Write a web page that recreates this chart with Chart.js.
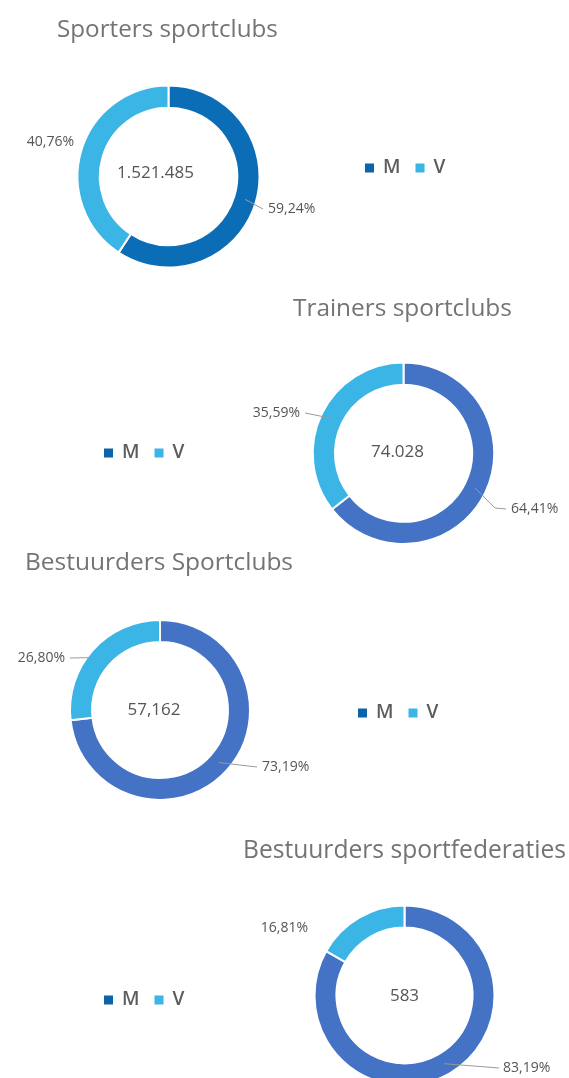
<!DOCTYPE html>
<html>
<head>
<meta charset="utf-8">
<script src="https://cdn.jsdelivr.net/npm/chart.js@4.4.0/dist/chart.umd.min.js"></script>
<style>
html,body{margin:0;padding:0;background:#fff;overflow:hidden;width:569px;height:1078px;}
.box{position:absolute;left:0;width:569px;}
canvas{display:block;}
</style>
</head>
<body>
<div class="box" style="top:0px"><canvas id="c1" width="569" height="280"></canvas></div>
<div class="box" style="top:280px"><canvas id="c2" width="569" height="265"></canvas></div>
<div class="box" style="top:545px"><canvas id="c3" width="569" height="285"></canvas></div>
<div class="box" style="top:830px"><canvas id="c4" width="569" height="300"></canvas></div>
<script>
// ---- DATA ----
const categories = ['M', 'V'];
const titles = ['Sporters sportclubs', 'Trainers sportclubs', 'Bestuurders Sportclubs', 'Bestuurders sportfederaties'];
const totals = ['1.521.485', '74.028', '57,162', '583'];
const sportersPct = [59.24, 40.76];
const trainersPct = [64.41, 35.59];
const bestuurdersClubsPct = [73.19, 26.80];
const bestuurdersFedPct = [83.19, 16.81];

// ---- STYLE ----
const legendColors = ['#0b63aa', '#3bb4e6'];
const fmtPct = v => v.toFixed(2).replace('.', ',') + '%';
const FONT = '"Open Sans", "Noto Sans", sans-serif';

const decoPlugin = {
  id: 'deco',
  afterDraw(chart, args, o) {
    const ctx = chart.ctx;
    const meta = chart.getDatasetMeta(0);
    const cx = meta.data[0].x, cy = meta.data[0].y;
    const values = chart.data.datasets[0].data;
    ctx.save();
    // title
    ctx.textBaseline = 'middle';
    ctx.textAlign = 'left';
    ctx.fillStyle = '#747474';
    ctx.font = '20px ' + FONT;
    const w20 = ctx.measureText(o.title).width;
    const fs = 20 * o.titleW / w20;
    ctx.font = fs.toFixed(2) + 'px ' + FONT;
    ctx.fillText(o.title, o.titleX, o.titleY);
    // center total
    ctx.textAlign = 'center';
    ctx.fillStyle = '#555555';
    ctx.font = '17px ' + FONT;
    ctx.fillText(o.total, cx + o.totalDx, cy + o.totalDy);
    // legend
    let x = o.legendX;
    chart.data.labels.forEach((lab, i) => {
      ctx.fillStyle = legendColors[i];
      ctx.fillRect(x, o.legendY - 4.5, 9, 9);
      ctx.font = '600 19px ' + FONT;
      ctx.fillStyle = '#5c5c5c';
      ctx.textAlign = 'left';
      ctx.fillText(lab, x + 18, o.legendY);
      x += 18 + ctx.measureText(lab).width + 15;
    });
    // percentage labels with leader lines
    ctx.font = '14px ' + FONT;
    o.labels.forEach((L, i) => {
      const p = meta.data[i].getCenterPoint();
      if (L.line) {
        ctx.strokeStyle = '#9a9a9a';
        ctx.lineWidth = 1;
        ctx.beginPath();
        ctx.moveTo(p.x, p.y);
        if (L.elbow) ctx.lineTo(L.elbow[0], L.elbow[1]);
        ctx.lineTo(L.lx, L.y);
        ctx.stroke();
      }
      ctx.fillStyle = '#555555';
      ctx.textAlign = L.align;
      ctx.fillText(fmtPct(values[i]), L.x, L.y);
    });
    ctx.restore();
  }
};

function makeChart(id, values, mColor, H, cx, cy, R, deco) {
  const half = R + 1;
  return new Chart(document.getElementById(id), {
    type: 'doughnut',
    data: {
      labels: categories,
      datasets: [{
        data: values,
        backgroundColor: [mColor, '#3bb4e6'],
        borderColor: '#ffffff',
        borderWidth: 2,
        hoverOffset: 0
      }]
    },
    options: {
      responsive: false,
      animation: false,
      events: [],
      cutout: '75.5%',
      layout: { padding: { left: cx - half, right: 569 - cx - half, top: cy - half, bottom: H - cy - half } },
      plugins: { legend: { display: false }, tooltip: { enabled: false }, deco: deco }
    },
    plugins: [decoPlugin]
  });
}

makeChart('c1', sportersPct, '#0b6db5', 280, 168.5, 176.5, 91, {
  title: titles[0], titleX: 57, titleY: 30, titleW: 221, total: totals[0], totalDx: -13, totalDy: -3,
  legendX: 365, legendY: 168,
  labels: [
    { line: true, lx: 263, y: 209, x: 268, align: 'left' },
    { line: false, x: 74, y: 142, align: 'right' }
  ]
});
makeChart('c2', trainersPct, '#4472c4', 265, 403.5, 173.5, 91, {
  title: titles[1], titleX: 293, titleY: 29, titleW: 219, total: totals[1], totalDx: -6, totalDy: -1,
  legendX: 104, legendY: 173,
  labels: [
    { line: true, elbow: [495, 228], lx: 506, y: 229, x: 511, align: 'left' },
    { line: true, lx: 305, y: 133, x: 300, align: 'right' }
  ]
});
makeChart('c3', bestuurdersClubsPct, '#4472c4', 285, 160, 165, 90, {
  title: titles[2], titleX: 25, titleY: 18, titleW: 268, total: totals[2], totalDx: -6, totalDy: 0,
  legendX: 358, legendY: 168,
  labels: [
    { line: true, lx: 257, y: 222, x: 262, align: 'left' },
    { line: true, lx: 70, y: 113, x: 65, align: 'right' }
  ]
});
makeChart('c4', bestuurdersFedPct, '#4472c4', 300, 404.5, 165.5, 90, {
  title: titles[3], titleX: 243, titleY: 21, titleW: 323, total: totals[3], totalDx: 0, totalDy: 1,
  legendX: 104, legendY: 170,
  labels: [
    { line: true, lx: 499, y: 238, x: 503, align: 'left' },
    { line: false, x: 308, y: 98, align: 'right' }
  ]
});
</script>
</body>
</html>
